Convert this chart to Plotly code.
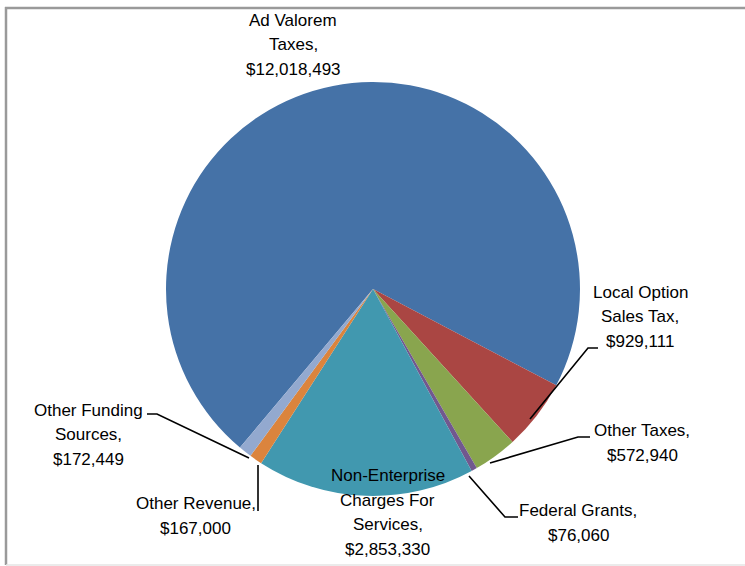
import plotly.graph_objects as go

# Revenue sources and amounts (dollars)
categories = [
    "Ad Valorem Taxes",
    "Local Option Sales Tax",
    "Other Taxes",
    "Federal Grants",
    "Non-Enterprise Charges For Services",
    "Other Revenue",
    "Other Funding Sources",
]
amounts = [12018493, 929111, 572940, 76060, 2853330, 167000, 172449]

# How each category name is broken over lines in its label
label_lines = [
    ["Ad Valorem", "Taxes,"],
    ["Local Option", "Sales Tax,"],
    ["Other Taxes,"],
    ["Federal Grants,"],
    ["Non-Enterprise", "Charges For", "Services,"],
    ["Other Revenue,"],
    ["Other Funding", "Sources,"],
]

slice_colors = ["#4572A7", "#AA4643", "#89A54E", "#71588F",
                "#4198AF", "#DB843D", "#93A9CF"]

W, H = 745, 566
FONT = "Liberation Sans, Arial, sans-serif"
FONT_SIZE = 17
LINE_STEP = 24.6  # pixels between label lines

# pie geometry in pixels
cx, cy, r = 373, 289, 207


def px(x, y):
    return x / W, 1 - y / H


# label placement: centre x and centre y of the first line (pixels)
label_pos = [(293, 20), (640, 292), (642, 430.5), (578, 510.5),
             (387.5, 475.5), (195.5, 503.5), (88.5, 410)]

# leader lines (pixels), drawn from label to slice
leaders = [
    None,
    [(598, 348), (588, 348), (530, 419)],
    [(590, 437), (578, 437), (490, 463)],
    [(518, 517), (505, 517), (469, 476)],
    None,
    [(258, 511), (258, 465)],
    [(147, 414), (157, 414), (249, 458)],
]

x0, y1 = px(cx - r, cy - r)
x1, y0 = px(cx + r, cy + r)

fig = go.Figure(
    go.Pie(
        labels=categories,
        values=amounts,
        sort=False,
        direction="clockwise",
        rotation=220,
        marker=dict(colors=slice_colors, line=dict(width=0)),
        textinfo="none",
        hoverinfo="label+value",
        domain=dict(x=[x0, x1], y=[y0, y1]),
        showlegend=False,
    )
)

annotations = []
for lines, value, (lx, ly) in zip(label_lines, amounts, label_pos):
    for k, line in enumerate(lines + [f"${value:,}"]):
        ax, ay = px(lx, ly + k * LINE_STEP)
        annotations.append(dict(
            text=line, x=ax, y=ay, xref="paper", yref="paper",
            xanchor="center", yanchor="middle", align="center",
            showarrow=False,
            font=dict(family=FONT, size=FONT_SIZE, color="#000000"),
        ))

shapes = []
for pts in leaders:
    if not pts:
        continue
    path = ""
    for i, (lx, ly) in enumerate(pts):
        ux, uy = px(lx, ly)
        path += ("M" if i == 0 else " L") + f" {ux:.5f} {uy:.5f}"
    shapes.append(dict(type="path", path=path, xref="paper", yref="paper",
                       line=dict(color="#000000", width=1.6)))

# chart frame
shapes += [
    dict(type="line", xref="paper", yref="paper",
         x0=px(5, 8)[0], y0=px(5, 8)[1], x1=1.01, y1=px(5, 8)[1],
         line=dict(color="#9A9A9A", width=2.5)),
    dict(type="line", xref="paper", yref="paper",
         x0=px(6, 7)[0], y0=px(6, 7)[1], x1=px(6, 565)[0], y1=px(6, 565)[1],
         line=dict(color="#9A9A9A", width=2.5)),
    dict(type="line", xref="paper", yref="paper",
         x0=px(6, 565)[0], y0=px(6, 565)[1], x1=1.01, y1=px(6, 565)[1],
         line=dict(color="#E4E4E4", width=1.5)),
]

fig.update_layout(
    width=W, height=H,
    margin=dict(l=0, r=0, t=0, b=0),
    paper_bgcolor="#FFFFFF",
    plot_bgcolor="#FFFFFF",
    annotations=annotations,
    shapes=shapes,
)

fig.write_html("out.html")
